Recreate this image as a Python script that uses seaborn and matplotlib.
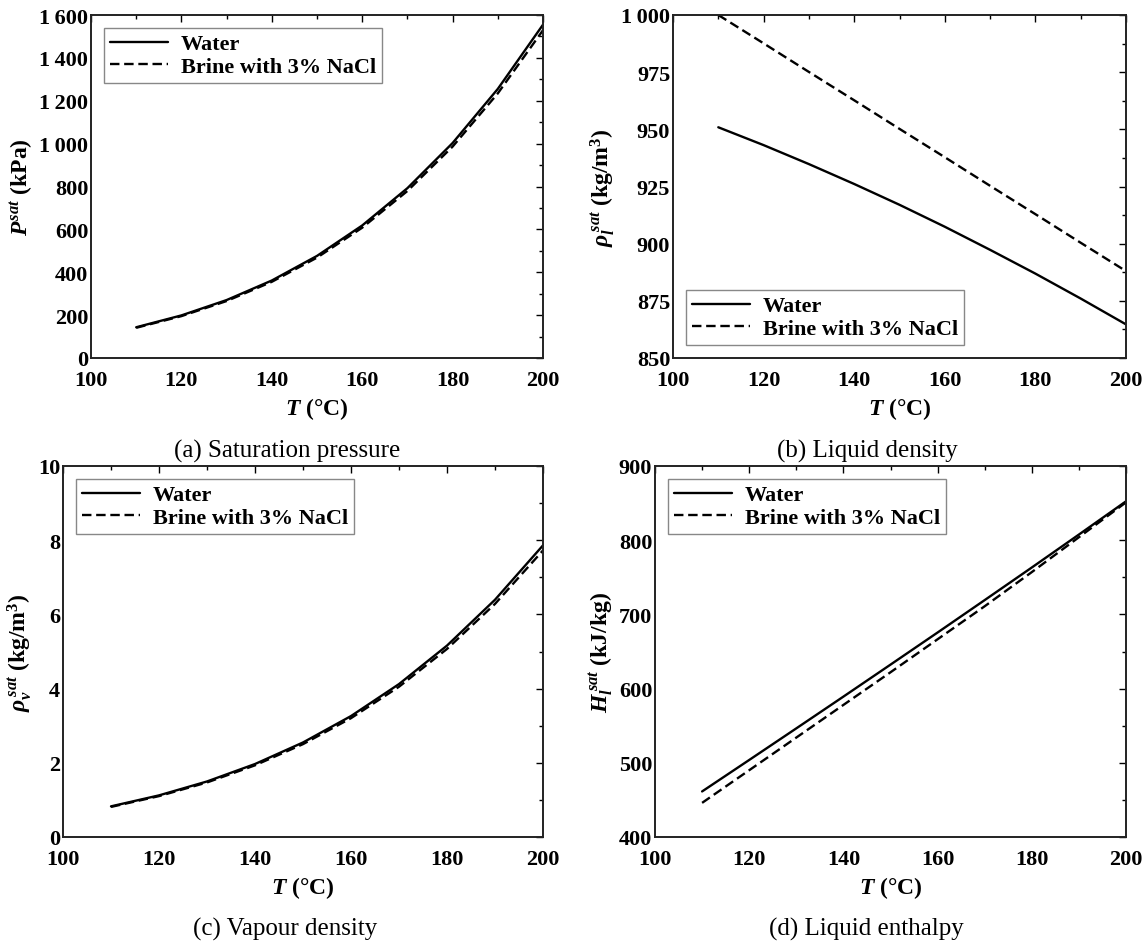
import numpy as np
import pandas as pd
import matplotlib
matplotlib.use("Agg")
import matplotlib.pyplot as plt
from matplotlib.ticker import MultipleLocator, FuncFormatter
import seaborn as sns

# ---------------- data ----------------
T = [110, 120, 130, 140, 150, 160, 170, 180, 190, 200]
labels = ["Water", "Brine with 3% NaCl"]

p_water = [143.4, 198.7, 270.3, 361.5, 476.2, 618.2, 792.2, 1002.8, 1255.2, 1554.9]
p_brine = [140.9, 195.3, 265.7, 355.4, 468.2, 607.8, 779.0, 986.1, 1234.3, 1529.0]

rhol_water = [950.9, 943.1, 934.8, 926.1, 917.0, 907.4, 897.3, 886.9, 876.0, 864.7]
rhol_brine = [1000.0, 987.6, 975.1, 962.7, 950.2, 937.8, 925.3, 912.9, 900.4, 888.0]

rhov_water = [0.826, 1.122, 1.497, 1.967, 2.548, 3.260, 4.122, 5.159, 6.395, 7.861]
rhov_brine = [0.811, 1.102, 1.470, 1.932, 2.503, 3.203, 4.050, 5.069, 6.283, 7.724]

h_water = [461.4, 503.8, 546.4, 589.2, 632.3, 675.6, 719.3, 763.2, 807.6, 852.4]
h_brine = [446.0, 490.0, 534.0, 578.0, 622.0, 666.5, 711.0, 757.0, 804.0, 851.0]

captions = ["(a) Saturation pressure", "(b) Liquid density",
            "(c) Vapour density", "(d) Liquid enthalpy"]
ylabels = [r"$P^{sat}$ (kPa)", r"$\rho_l^{\,sat}$ (kg/m$^3$)",
           r"$\rho_v^{\,sat}$ (kg/m$^3$)", r"$H_l^{\,sat}$ (kJ/kg)"]

# ---------------- style ----------------
sns.set_theme(style="white")
plt.rcParams["font.family"] = ["Liberation Serif", "DejaVu Serif"]
plt.rcParams["font.weight"] = "bold"
plt.rcParams["text.color"] = "black"
plt.rcParams["axes.labelcolor"] = "black"
plt.rcParams["xtick.color"] = "black"
plt.rcParams["ytick.color"] = "black"
plt.rcParams["mathtext.fontset"] = "custom"
plt.rcParams["mathtext.rm"] = "Liberation Serif:bold"
plt.rcParams["mathtext.it"] = "Liberation Serif:italic:bold"
plt.rcParams["mathtext.bf"] = "Liberation Serif:bold"

fig = plt.figure(figsize=(11.48, 9.45), dpi=100)
W, H = 1148, 945
def rect(l, r, t, b):
    return [l / W, 1 - b / H, (r - l) / W, (b - t) / H]

axes = [fig.add_axes(rect(91, 543, 16, 359)),
        fig.add_axes(rect(673, 1126, 16, 359)),
        fig.add_axes(rect(63, 543, 467, 838)),
        fig.add_axes(rect(655, 1126, 467, 838))]

series = [(p_water, p_brine), (rhol_water, rhol_brine),
          (rhov_water, rhov_brine), (h_water, h_brine)]
ylims = [(0, 1600, 200), (850, 1000, 25), (0, 10, 2), (400, 900, 100)]
legend_locs = ["upper left", "lower left", "upper left", "upper left"]
cap_pos = [(287, 451), (867, 451), (285, 929), (866, 929)]

def fmt_thousands(v, pos):
    s = f"{int(round(v)):d}"
    if len(s) > 3:
        s = s[:-3] + "\u2009" + s[-3:]
    return s

for i, ax in enumerate(axes):
    w, b = series[i]
    df = pd.DataFrame({"T": T * 2, "val": list(w) + list(b),
                       "Fluid": [labels[0]] * len(T) + [labels[1]] * len(T)})
    sns.lineplot(data=df, x="T", y="val", style="Fluid", color="black",
                 dashes={labels[0]: "", labels[1]: (4, 2)}, linewidth=1.7,
                 ax=ax, legend=True)
    ax.set_xlim(100, 200)
    lo, hi, st = ylims[i]
    ax.set_ylim(lo, hi)
    ax.xaxis.set_major_locator(MultipleLocator(20))
    ax.xaxis.set_minor_locator(MultipleLocator(10))
    ax.yaxis.set_major_locator(MultipleLocator(st))
    ax.yaxis.set_minor_locator(MultipleLocator(st / 2))
    ax.yaxis.set_major_formatter(FuncFormatter(fmt_thousands))
    ax.tick_params(which="both", direction="in", top=True, right=True,
                   colors="black", labelsize=16, width=1.0)
    ax.tick_params(which="major", length=5)
    ax.tick_params(which="minor", length=3)
    ax.tick_params(axis="x", which="major", pad=9)
    ax.tick_params(axis="y", which="major", pad=2)
    for lab in ax.get_xticklabels() + ax.get_yticklabels():
        lab.set_fontweight("bold")
    for sp in ax.spines.values():
        sp.set_color("#222222")
        sp.set_linewidth(1.4)
    ax.set_xlabel(r"$T$ (°C)", fontsize=17, fontweight="bold", labelpad=3)
    ax.set_ylabel(ylabels[i], fontsize=17, fontweight="bold", labelpad=3)
    handles, labs = ax.get_legend_handles_labels()
    leg = ax.legend(handles, labs, loc=legend_locs[i], frameon=True,
                    fancybox=False, edgecolor="#888888", framealpha=1,
                    prop={"family": "Liberation Serif", "weight": "bold", "size": 16},
                    handlelength=2.6, borderpad=0.25, labelspacing=0.1,
                    borderaxespad=0.6, handletextpad=0.6)
    leg.get_frame().set_linewidth(1.0)
    cx, cy = cap_pos[i]
    fig.text(cx / W, 1 - cy / H, captions[i], ha="center", va="center",
             fontsize=18, fontweight="normal", family="Liberation Serif")

fig.savefig("out.png", dpi=100)
